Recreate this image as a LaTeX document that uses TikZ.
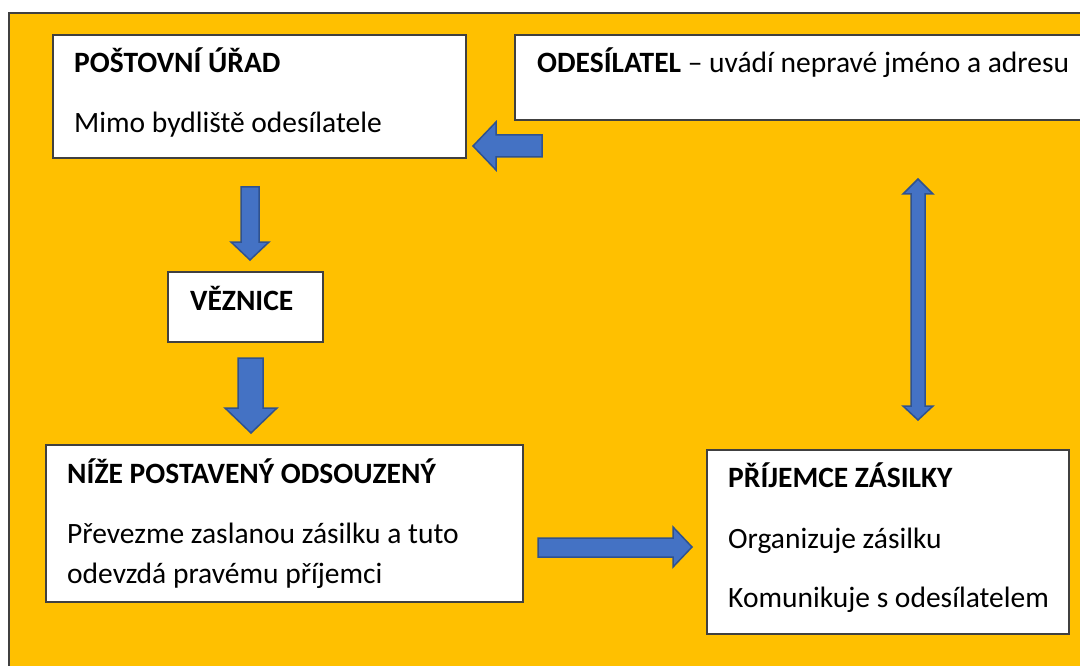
\documentclass[tikz,border=0pt]{standalone}
\usepackage{fontspec}
\setmainfont{Carlito}
\definecolor{bg}{HTML}{FFC000}
\definecolor{arrfill}{HTML}{4472C4}
\definecolor{arrdraw}{HTML}{2F528F}
\definecolor{frame}{HTML}{404040}
\begin{document}
\begin{tikzpicture}[x=1pt,y=-1pt,
  box/.style={draw=frame,line width=1.2pt,fill=white},
  blockarrow/.style={fill=arrfill,draw=arrdraw,line width=1.5pt,line join=miter},
  txt/.style={inner sep=0pt,anchor=base west,font=\fontsize{29.5}{35}\selectfont}]
\useasboundingbox (0,0) rectangle (1080,666);
\clip (0,0) rectangle (1080,666);
\fill[white] (0,0) rectangle (1080,666);
\draw[fill=bg,draw=frame,line width=1.2pt] (9,13) rectangle (1100,690);
% boxes
\draw[box] (53,35) rectangle (466,158);
\draw[box] (515,35) rectangle (1100,120);
\draw[box] (168,272) rectangle (323,342);
\draw[box] (46,445) rectangle (523,602);
\draw[box] (707,450) rectangle (1069,634);
% texts
\node[txt] (posta) at (74,73) {\textbf{POŠTOVNÍ ÚŘAD}};
\node[txt] (postab) at (74,133) {Mimo bydliště odesílatele};
\node[txt] (odes) at (537,73) {\textbf{ODESÍLATEL} – uvádí nepravé jméno a adresu};
\node[txt] (vez) at (190,310) {\textbf{VĚZNICE}};
\node[txt] (nize) at (67,483) {\textbf{NÍŽE POSTAVENÝ ODSOUZENÝ}};
\node[txt] (nizea) at (67,543) {Převezme zaslanou zásilku a tuto};
\node[txt] (nizeb) at (67,583) {odevzdá pravému příjemci};
\node[txt] (prij) at (728,487) {\textbf{PŘÍJEMCE ZÁSILKY}};
\node[txt] (prija) at (728,548) {Organizuje zásilku};
\node[txt] (prijb) at (728,607) {Komunikuje s odesílatelem};
% left arrow (odesilatel -> posta)
\draw[blockarrow] (542,135) -- (496,135) -- (496,122) -- (473,146) -- (496,170) -- (496,157) -- (542,157) -- cycle;
% down arrow 1
\draw[blockarrow] (241,187) -- (259,187) -- (259,242) -- (269,242) -- (250,260) -- (231,242) -- (241,242) -- cycle;
% down arrow 2
\draw[blockarrow] (238,358) -- (263,358) -- (263,408) -- (277,408) -- (251,433) -- (225,408) -- (238,408) -- cycle;
% right arrow
\draw[blockarrow] (538,538) -- (673,538) -- (673,527) -- (692,547) -- (673,567) -- (673,557) -- (538,557) -- cycle;
% double vertical arrow
\draw[blockarrow] (918,179) -- (933,194) -- (925,194) -- (925,406) -- (933,406) -- (918,420) -- (903,406) -- (911,406) -- (911,194) -- (903,194) -- cycle;
\end{tikzpicture}
\end{document}
